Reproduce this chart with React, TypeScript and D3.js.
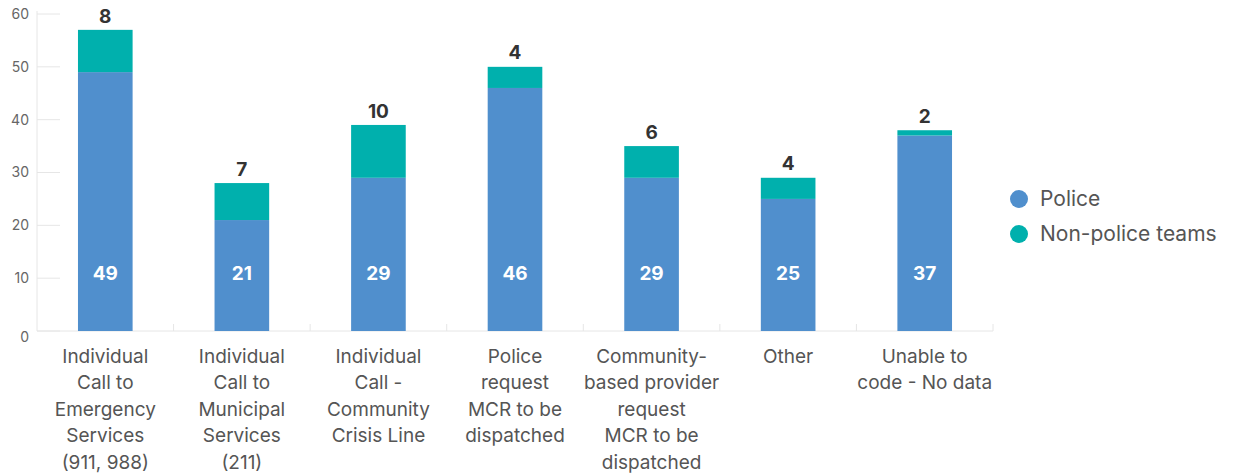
import React from "react";
import * as d3 from "d3";

const categories = [
  ["Individual", "Call to", "Emergency", "Services", "(911, 988)"],
  ["Individual", "Call to", "Municipal", "Services", "(211)"],
  ["Individual", "Call -", "Community", "Crisis Line"],
  ["Police", "request", "MCR to be", "dispatched"],
  ["Community-", "based provider", "request", "MCR to be", "dispatched"],
  ["Other"],
  ["Unable to", "code - No data"],
];
const police = [49, 21, 29, 46, 29, 25, 37];
const nonPolice = [8, 7, 10, 4, 6, 4, 1];
const nonPoliceLabels = [8, 7, 10, 4, 6, 4, 2];
const yTicks = [0, 10, 20, 30, 40, 50, 60];
const seriesNames = ["Police", "Non-police teams"];
const colors = ["#508fcd", "#00b0ad"];

const W = 1235;
const H = 475;
const left = 37;
const right = 993;
const top = 14;
const bottom = 331;
const font = "Inter, 'Noto Sans', sans-serif";

export default function App() {
  const idx = categories.map((_, i) => String(i));
  const x = d3.scaleBand().domain(idx).range([left, right]).paddingInner(0.6).paddingOuter(0.3);
  const xOuter = d3.scaleBand().domain(idx).range([left, right]);
  const y = d3.scaleLinear().domain([0, 60]).range([bottom, top]);
  const stacked = d3.stack<any>().keys(["p", "n"])(
    police.map((p, i) => ({ p, n: nonPolice[i] }))
  );

  return (
    <svg width={W} height={H} style={{ position: "absolute", left: 0, top: 0 }}>
      <line x1={left} x2={left} y1={top - 3} y2={bottom} stroke="#e6e6e6" />
      {yTicks.map((t) => (
        <g key={t}>
          <line x1={left} x2={left + 23} y1={y(t)} y2={y(t)} stroke="#e6e6e6" />
          <text x={29} y={y(t) + (t === 0 ? 6 : 0)} dy="0.35em" textAnchor="end" fontSize={14} fill="#666" fontFamily={font}>
            {t}
          </text>
        </g>
      ))}
      <line x1={left} x2={right} y1={bottom} y2={bottom} stroke="#e6e6e6" />
      {idx.slice(1).concat(["end"]).map((k, i) => {
        const xx = k === "end" ? right : (xOuter(k) as number);
        return <line key={i} x1={xx} x2={xx} y1={bottom} y2={bottom - 7} stroke="#e6e6e6" />;
      })}
      {stacked.map((s, si) =>
        s.map((d, i) => (
          <rect
            key={si + "-" + i}
            x={x(String(i))}
            width={x.bandwidth()}
            y={y(d[1])}
            height={y(d[0]) - y(d[1])}
            fill={colors[si]}
          />
        ))
      )}
      {police.map((v, i) => (
        <text key={"p" + i} x={(x(String(i)) as number) + x.bandwidth() / 2} y={y(11)} dy="0.35em" textAnchor="middle" fontSize={19} fontWeight={700} fill="#fff" fontFamily={font}>
          {v}
        </text>
      ))}
      {nonPoliceLabels.map((v, i) => (
        <text key={"n" + i} x={(x(String(i)) as number) + x.bandwidth() / 2} y={y(police[i] + nonPolice[i]) - 14} dy="0.35em" textAnchor="middle" fontSize={19} fontWeight={700} fill="#333" fontFamily={font}>
          {v}
        </text>
      ))}
      {categories.map((lines, i) => (
        <text key={"c" + i} textAnchor="middle" fontSize={19} fill="#555" fontFamily={font}>
          {lines.map((l, j) => (
            <tspan key={j} x={(xOuter(String(i)) as number) + xOuter.bandwidth() / 2} y={356 + j * 26.6} dy="0.35em">
              {l}
            </tspan>
          ))}
        </text>
      ))}
      {seriesNames.map((n, i) => (
        <g key={n}>
          <circle cx={1019} cy={199 + i * 35} r={9} fill={colors[i]} />
          <text x={1040} y={199 + i * 35} dy="0.35em" fontSize={21} fill="#555" fontFamily={font}>
            {n}
          </text>
        </g>
      ))}
    </svg>
  );
}
